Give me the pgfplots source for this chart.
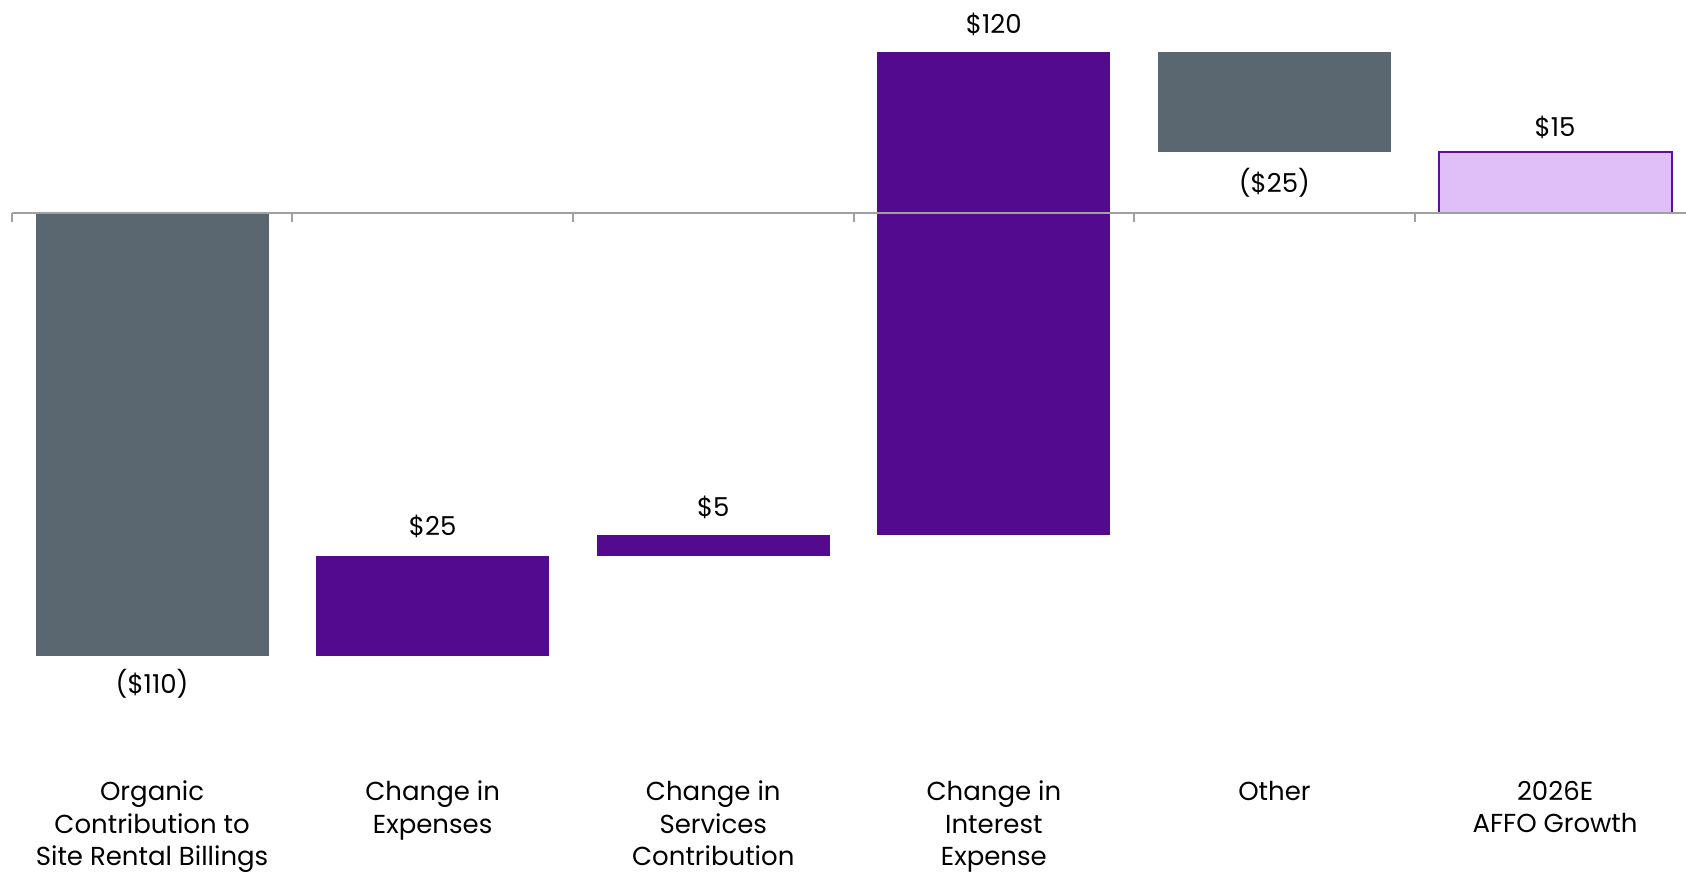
\documentclass[border=0pt]{standalone}
\usepackage{pgfplots}
\pgfplotsset{compat=1.18}
\usepackage{pgfplotstable}
\usepackage{fontspec}
\setmainfont{Poppins}
\definecolor{cgray}{HTML}{5B6770}
\definecolor{cpurple}{HTML}{530A8F}
\definecolor{clilac}{HTML}{E0BEF8}
\definecolor{cborder}{HTML}{5A0FA0}
\definecolor{caxis}{HTML}{A0A0A0}
% waterfall steps: x, bottom of bar, height of bar
\pgfplotstableread{
x lo h
0 -110 110
4 15 25
}\graybars
\pgfplotstableread{
x lo h
1 -110 25
2 -85 5
3 -80 120
}\purplebars
\pgfplotsset{wf/.style={width=837pt, height=362.9pt, scale only axis,
  xmin=-0.5, xmax=5.466, ymin=-130, ymax=50, clip=false,
  at={(5.9pt,67.45pt)}, anchor=south west}}
\begin{document}
\begin{tikzpicture}[font=\fontsize{13pt}{16.1pt}\selectfont]
\path[use as bounding box] (0,0) rectangle (843pt,436pt);
\begin{axis}[wf, ybar, bar width=116.5pt, axis lines=none]
\addplot[fill=clilac, draw=cborder, line width=1pt] coordinates {(5,15)};
\end{axis}
\begin{axis}[wf,
  axis x line=middle, axis y line=none, axis on top,
  xtick={-0.5,0.5,1.5,2.5,3.5,4.5}, xticklabels={},
  tick align=outside, major tick length=4.5pt,
  x axis line style={caxis, line width=1pt, -},
  tick style={caxis, line width=1pt}]
\addplot[draw=none, mark=none,
  error bars/.cd, y dir=plus, y explicit, error mark=none,
  error bar style={draw=cgray, line width=116.5pt, line cap=butt}]
  table[x=x, y=lo, y error plus=h]{\graybars};
\addplot[draw=none, mark=none,
  error bars/.cd, y dir=plus, y explicit, error mark=none,
  error bar style={draw=cpurple, line width=116.5pt, line cap=butt}]
  table[x=x, y=lo, y error plus=h]{\purplebars};
\node[anchor=base] at (axis cs:0,-119.3) {(\$110)};
\node[anchor=base] at (axis cs:1,-80) {\$25};
\node[anchor=base] at (axis cs:2,-75.2) {\$5};
\node[anchor=base] at (axis cs:3,44.5) {\$120};
\node[anchor=base] at (axis cs:4,5.1) {(\$25)};
\node[anchor=base] at (axis cs:5,19) {\$15};
\node[anchor=north, align=center, inner sep=0pt] at (axis cs:0,-140.8) {Organic\\Contribution to\\Site Rental Billings};
\node[anchor=north, align=center, inner sep=0pt] at (axis cs:1,-140.8) {Change in\\Expenses};
\node[anchor=north, align=center, inner sep=0pt] at (axis cs:2,-140.8) {Change in\\Services\\Contribution};
\node[anchor=north, align=center, inner sep=0pt] at (axis cs:3,-140.8) {Change in\\Interest\\Expense};
\node[anchor=north, align=center, inner sep=0pt] at (axis cs:4,-140.8) {Other};
\node[anchor=north, align=center, inner sep=0pt] at (axis cs:5,-140.8) {2026E\\AFFO Growth};
\end{axis}
\end{tikzpicture}
\end{document}
